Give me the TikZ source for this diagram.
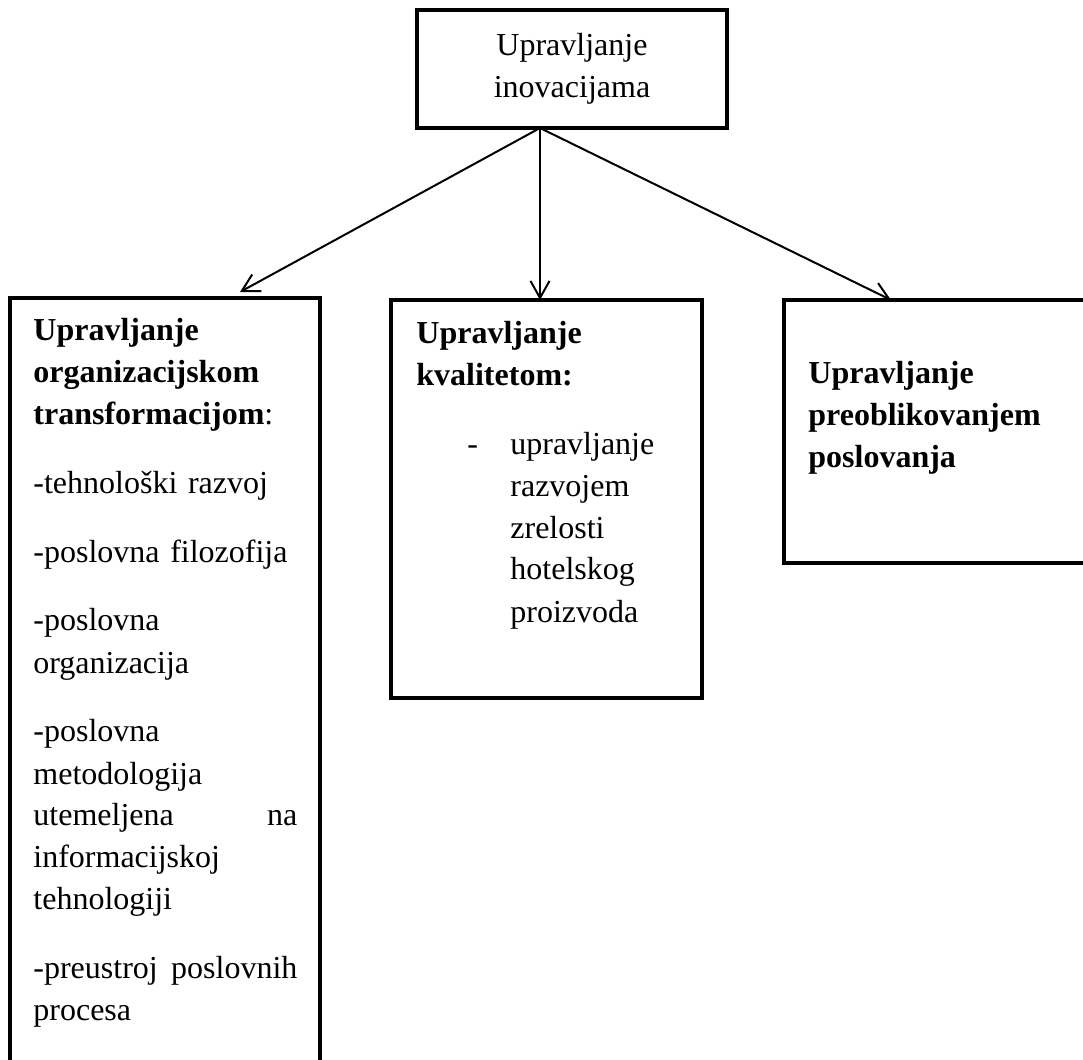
\documentclass[tikz,border=0pt]{standalone}
\usepackage{fontspec}
\setmainfont{Liberation Serif}
\usetikzlibrary{arrows.meta,calc}

\tikzset{
  box/.style={draw, line width=2.4pt, inner sep=0pt, outer sep=0pt},
  txt/.style={inner sep=0pt, anchor=base west, align=left,
              font=\fontsize{16}{21}\selectfont},
  arr/.style={-{Straight Barb[length=8.5pt,width=9.5pt]}, line width=1pt},
}

\begin{document}
\begin{tikzpicture}[x=0.5pt,y=-0.5pt]
\path[use as bounding box, clip] (0,0) rectangle (1083,1060);

% top box
\node[box, minimum width=155pt, minimum height=59pt, align=center,
      font=\fontsize{16}{21}\selectfont] (inov) at (572,69)
      {Upravljanje\\inovacijama};

% three boxes below (left and right ones run off the page)
\node[box, anchor=north west, minimum width=155pt, minimum height=390pt]
      (org) at (10,298) {};
\node[box, anchor=north west, minimum width=155.5pt, minimum height=199pt]
      (kval) at (391,300) {};
\node[box, anchor=north west, minimum width=158pt, minimum height=131.5pt]
      (preob) at (784,300) {};

\node[txt, text width=132pt] (orgtxt) at (33,340)
  {\textbf{Upravljanje}\\ \textbf{organizacijskom}\\ \textbf{transformacijom}:\\[13.5pt]
   -tehnološki razvoj\\[13.5pt]
   -poslovna filozofija\\[13.5pt]
   -poslovna\\ organizacija\\[13.5pt]
   -poslovna\\ metodologija\\ utemeljena\hfill na\\ informacijskoj\\ tehnologiji\\[13.5pt]
   -preustroj\hfill poslovnih\\ procesa};

\node[txt, text width=140pt] (kvaltxt) at (416,343)
  {\textbf{Upravljanje}\\ \textbf{kvalitetom:}\\[13.5pt]
   \hspace*{25.5pt}\makebox[21.5pt][l]{-}upravljanje\\
   \hspace*{47pt}razvojem\\
   \hspace*{47pt}zrelosti\\
   \hspace*{47pt}hotelskog\\
   \hspace*{47pt}proizvoda};

\node[txt, text width=140pt] (preobtxt) at (808,383)
  {\textbf{Upravljanje}\\ \textbf{preoblikovanjem}\\ \textbf{poslovanja}};

% arrows
\coordinate (fork) at ($(inov.south)+(-32,0)$);
\draw[arr] (fork) -- ($(org.north)+(75,-6)$);
\draw[arr] (fork) -- (fork |- kval.north);
\draw[arr] (fork) -- ($(preob.north)+(-51,0)$);
\end{tikzpicture}
\end{document}
